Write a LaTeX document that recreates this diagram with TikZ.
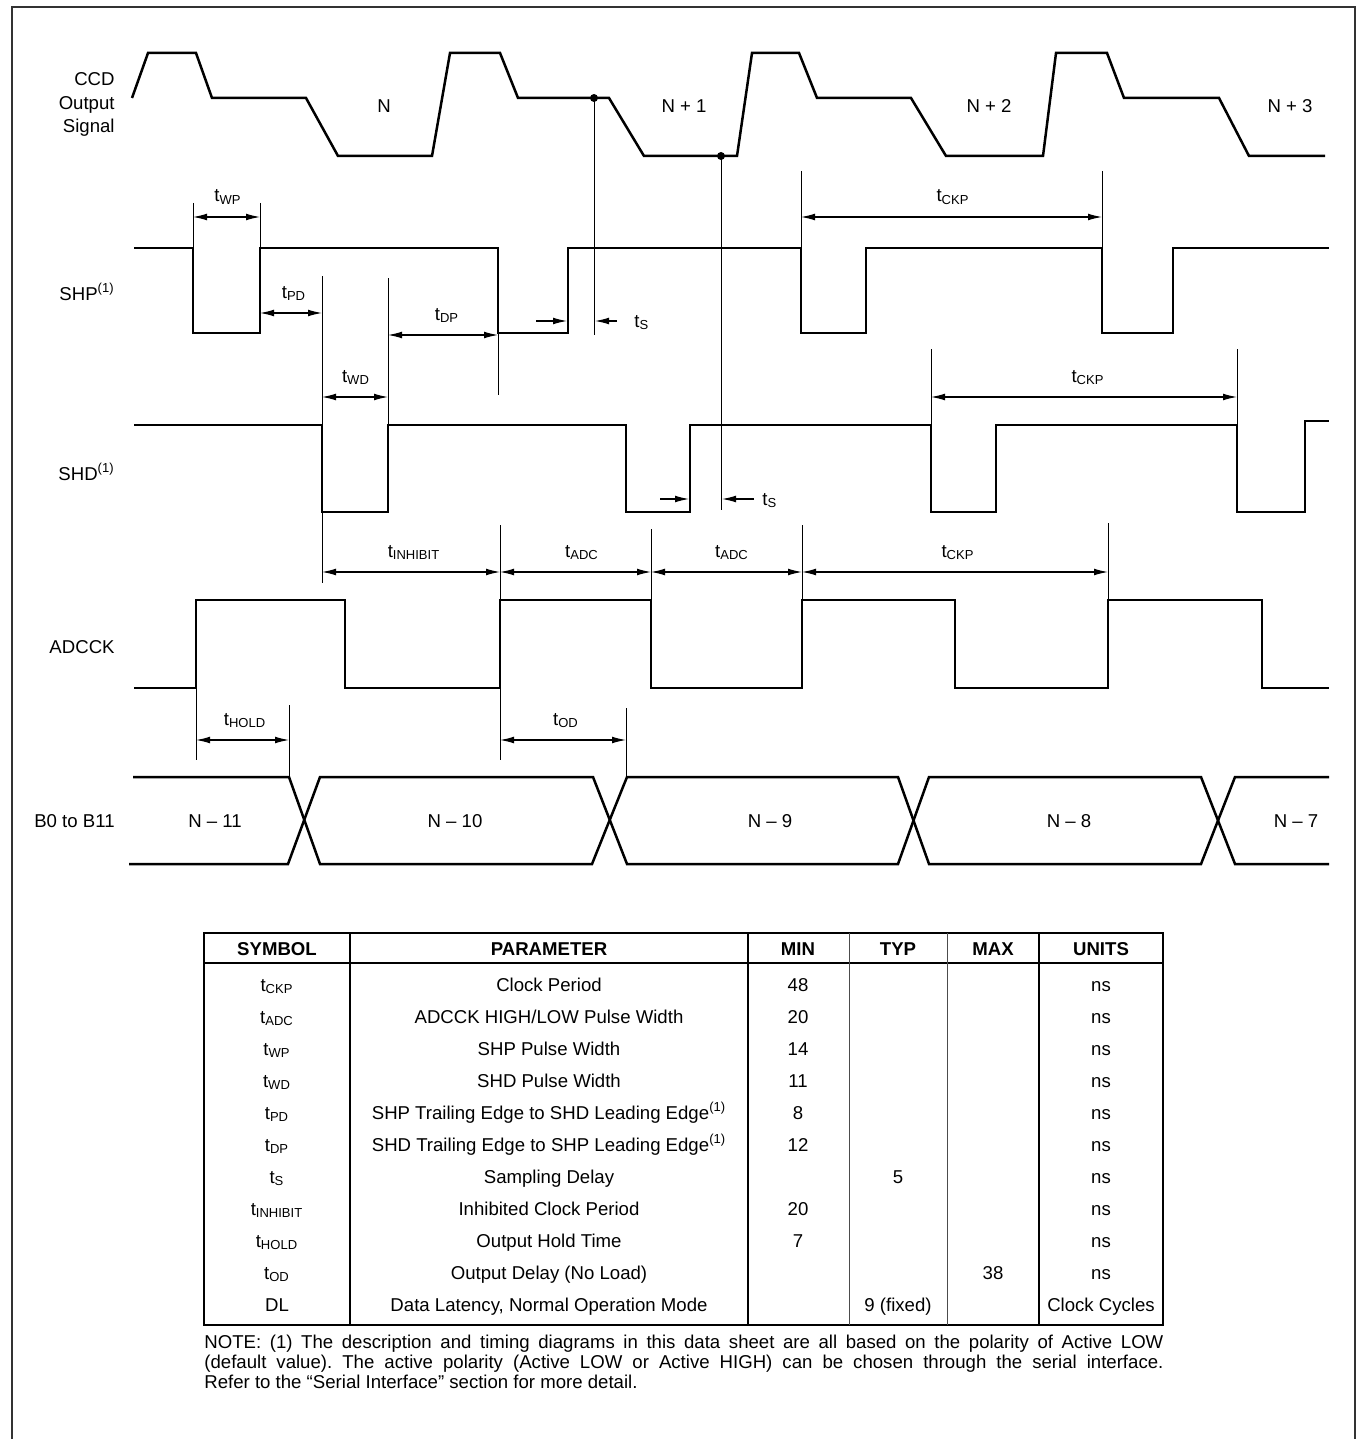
\documentclass[tikz,border=0pt]{standalone}
\usepackage{fontspec}
\setmainfont{Liberation Sans}
\usetikzlibrary{arrows.meta}
\newcommand\sz{\fontsize{9.3}{11}\selectfont}
\newcommand\tsub[1]{t\textsubscript{#1}}
\newcommand\fn{\textsuperscript{(1)}}
\begin{document}
\frenchspacing
\begin{tikzpicture}[x=0.5pt,y=-0.5pt,
  wave/.style={line width=1.25pt, line join=miter, line cap=butt},
  ext/.style={line width=0.5pt},
  dim/.style={line width=0.6pt, {Latex[length=7pt,width=3.4pt]}-{Latex[length=7pt,width=3.4pt]}},
  rarr/.style={line width=0.6pt, -{Latex[length=7pt,width=3.4pt]}},
  lbl/.style={font=\sz, inner sep=0pt, anchor=base},
  sig/.style={font=\sz, inner sep=0pt, anchor=base east},
  frame/.style={line width=1.15pt, draw=black!80},
  tbl/.style={line width=1pt},
  tblin/.style={line width=0.5pt, draw=black!70},
  hdr/.style={font=\sz\bfseries, inner sep=0pt, anchor=base},
]
\fill[white] (0,0) rectangle (1361,1439);
\useasboundingbox (0,0) rectangle (1361,1439);
% frame (open at the bottom)
\draw[frame] (12,1439) -- (12,7) -- (1355,7) -- (1355,1439);

% ---------- signal names ----------
\node[sig] (ccd1) at (115,86) {CCD};
\node[sig] (ccd2) at (115,110) {Output};
\node[sig] (ccd3) at (115,133) {Signal};
\node[sig] (shpname) at (115,300) {SHP\fn};
\node[sig] (shdname) at (115,480) {SHD\fn};
\node[sig] (adcname) at (115,653) {ADCCK};
\node[sig] (busname) at (115,827) {B0 to B11};

% ---------- CCD output signal ----------
\draw[wave] (132,98) -- (148,53) -- (196,53) -- (212,98) -- (306,98) -- (338,156) -- (432,156)
  -- (450,53) -- (500,53) -- (518,98) -- (609,98) -- (644,156) -- (737,156)
  -- (752,53) -- (799,53) -- (817,98) -- (911,98) -- (946,156) -- (1043,156)
  -- (1056,53) -- (1107,53) -- (1124,98) -- (1219,98) -- (1249,156) -- (1325,156);
\node[lbl] (n0) at (384,113) {N};
\node[lbl] (n1) at (684,113) {N + 1};
\node[lbl] (n2) at (989,113) {N + 2};
\node[lbl] (n3) at (1290,113) {N + 3};
\coordinate (s1) at (594,98);
\coordinate (s2) at (721,156);
\fill (s1) circle (4);
\fill (s2) circle (4);
\draw[ext] (s1) -- (594,335);
\draw[ext] (s2) -- (721,510);

% ---------- SHP ----------
\draw[wave] (134,248) -- (193,248) -- (193,333) -- (260,333) -- (260,248) -- (498,248) -- (498,333)
  -- (568,333) -- (568,248) -- (801,248) -- (801,333) -- (866,333) -- (866,248) -- (1102,248)
  -- (1102,333) -- (1173,333) -- (1173,248) -- (1329,248);

% ---------- SHD ----------
\draw[wave] (134,425) -- (322,425) -- (322,512) -- (388,512) -- (388,425) -- (626,425) -- (626,512)
  -- (690,512) -- (690,425) -- (931,425) -- (931,512) -- (996,512) -- (996,425) -- (1237,425)
  -- (1237,512) -- (1305,512) -- (1305,421) -- (1329,421);

% ---------- ADCCK ----------
\draw[wave] (134,688) -- (196,688) -- (196,600) -- (345,600) -- (345,688) -- (500,688) -- (500,600)
  -- (651,600) -- (651,688) -- (802,688) -- (802,600) -- (955,600) -- (955,688) -- (1108,688)
  -- (1108,600) -- (1262,600) -- (1262,688) -- (1329,688);

% ---------- data bus ----------
\draw[wave] (133,777) -- (289,777) -- (320,864) -- (592,864) -- (627,777) -- (898,777)
  -- (929,864) -- (1201,864) -- (1235,777) -- (1329,777);
\draw[wave] (129,864) -- (288,864) -- (320,777) -- (593,777) -- (627,864) -- (898,864)
  -- (929,777) -- (1201,777) -- (1235,864) -- (1329,864);
\node[lbl] (d11) at (215,827) {N -- 11};
\node[lbl] (d10) at (455,827) {N -- 10};
\node[lbl] (d9) at (770,827) {N -- 9};
\node[lbl] (d8) at (1069,827) {N -- 8};
\node[lbl] (d7) at (1296,827) {N -- 7};

% ---------- extension lines ----------
\draw[ext] (193,203) -- (193,248);
\draw[ext] (260,203) -- (260,248);
\draw[ext] (322,276) -- (322,583);
\draw[ext] (388,278) -- (388,425);
\draw[ext] (498,333) -- (498,395);
\draw[ext] (801,171) -- (801,248);
\draw[ext] (1102,171) -- (1102,248);
\draw[ext] (931,349) -- (931,425);
\draw[ext] (1237,349) -- (1237,425);
\draw[ext] (500,525) -- (500,760);
\draw[ext] (651,529) -- (651,600);
\draw[ext] (802,525) -- (802,600);
\draw[ext] (1108,523) -- (1108,600);
\draw[ext] (196,688) -- (196,760);
\draw[ext] (289,705) -- (289,777);
\draw[ext] (626,708) -- (626,777);

% ---------- dimension arrows ----------
\draw[dim] (193,217) -- (260,217);
\node[lbl] (twp) at (228,202) {\tsub{WP}};
\draw[dim] (260,313) -- (322,313);
\node[lbl] (tpd) at (294,298) {\tsub{PD}};
\draw[dim] (322,397) -- (388,397);
\node[lbl] (twd) at (356,382) {\tsub{WD}};
\draw[dim] (388,335) -- (498,335);
\node[lbl] (tdp) at (447,320) {\tsub{DP}};
\draw[dim] (801,217) -- (1102,217);
\node[lbl] (tckp1) at (953,202) {\tsub{CKP}};
\draw[dim] (931,397) -- (1237,397);
\node[lbl] (tckp2) at (1088,382) {\tsub{CKP}};
\draw[dim] (322,572) -- (500,572);
\node[lbl] (tinh) at (414,557) {\tsub{INHIBIT}};
\draw[dim] (500,572) -- (651,572);
\node[lbl] (tadc1) at (582,557) {\tsub{ADC}};
\draw[dim] (651,572) -- (802,572);
\node[lbl] (tadc2) at (732,557) {\tsub{ADC}};
\draw[dim] (802,572) -- (1108,572);
\node[lbl] (tckp3) at (958,557) {\tsub{CKP}};
\draw[dim] (196,740) -- (289,740);
\node[lbl] (thold) at (245,725) {\tsub{HOLD}};
\draw[dim] (500,740) -- (626,740);
\node[lbl] (tod) at (566,725) {\tsub{OD}};

% sampling delays
\draw[rarr] (536,321) -- (567,321);
\draw[rarr] (617,321) -- (595,321);
\node[font=\sz, inner sep=0pt, anchor=base west] (ts1) at (634,327) {\tsub{S}};
\draw[rarr] (660,499) -- (689,499);
\draw[rarr] (754,499) -- (722,499);
\node[font=\sz, inner sep=0pt, anchor=base west] (ts2) at (762,505) {\tsub{S}};

% ---------- table ----------
\draw[tbl] (204,933) rectangle (1163,1325);
\draw[tbl] (204,963) -- (1163,963);
\draw[line width=0.8pt] (350,933) -- (350,1325);
\draw[line width=0.8pt] (748,933) -- (748,1325);
\draw[line width=0.8pt] (1039,933) -- (1039,1325);
\draw[tblin] (849,933) -- (849,1325);
\draw[tblin] (947,933) -- (947,1325);
\node[hdr] (hsym) at (277,955) {SYMBOL};
\node[hdr] (hpar) at (549,955) {PARAMETER};
\node[hdr] (hmin) at (798,955) {MIN};
\node[hdr] (htyp) at (898,955) {TYP};
\node[hdr] (hmax) at (993,955) {MAX};
\node[hdr] (hun) at (1101,955) {UNITS};
\foreach \yy/\ss/\pp/\mn/\ty/\mx/\uu [count=\i] in {
  991/\tsub{CKP}/Clock Period/48///ns,
  1023/\tsub{ADC}/ADCCK HIGH{/}LOW Pulse Width/20///ns,
  1055/\tsub{WP}/SHP Pulse Width/14///ns,
  1087/\tsub{WD}/SHD Pulse Width/11///ns,
  1119/\tsub{PD}/SHP Trailing Edge to SHD Leading Edge\fn/8///ns,
  1151/\tsub{DP}/SHD Trailing Edge to SHP Leading Edge\fn/12///ns,
  1183/\tsub{S}/Sampling Delay//5//ns,
  1215/\tsub{INHIBIT}/Inhibited Clock Period/20///ns,
  1247/\tsub{HOLD}/Output Hold Time/7///ns,
  1279/\tsub{OD}/Output Delay (No Load)///38/ns,
  1311/DL/{Data Latency, Normal Operation Mode}//9 (fixed)//Clock Cycles}
{
  \node[lbl] (sym\i) at (277,\yy) {\ss};
  \node[lbl] (par\i) at (549,\yy) {\pp};
  \node[lbl] (min\i) at (798,\yy) {\mn};
  \node[lbl] (typ\i) at (898,\yy) {\ty};
  \node[lbl] (max\i) at (993,\yy) {\mx};
  \node[lbl] (uni\i) at (1101,\yy) {\uu};
}
\node[anchor=base west, inner sep=0pt] (note) at (204,1348) {\parbox[t]{479.5pt}{\sz
  \hyphenpenalty=10000 \baselineskip=10pt \frenchspacing
  NOTE: (1) The description and timing diagrams in this data sheet are all based on the polarity of Active LOW\linebreak
  (default value). The active polarity (Active LOW or Active HIGH) can be chosen through the serial interface.\linebreak
  Refer to the \char"201C Serial Interface\char"201D{} section for more detail.}};
\end{tikzpicture}
\end{document}
